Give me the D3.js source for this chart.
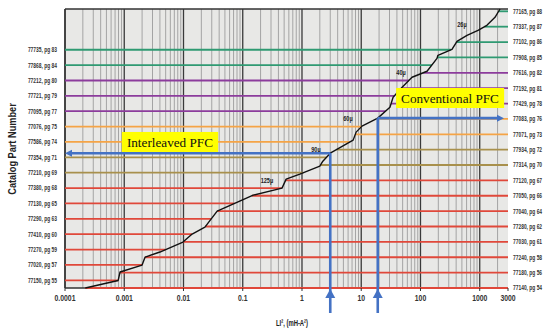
<!DOCTYPE html>
<html><head><meta charset="utf-8">
<script src="https://cdn.jsdelivr.net/npm/d3@7"></script>
<style>
html,body{margin:0;padding:0;background:#fff;}
svg{display:block;}
.nar{font-family:"Liberation Sans","Arial",sans-serif;}
.ser{font-family:"Liberation Serif","Times New Roman",serif;}
</style>
</head><body>
<svg id="c" width="550" height="335"></svg>
<script>
// ---- data ----
// Part numbers labelled on the left (bottom to top)
const leftParts = ["77150, pg 55","77020, pg 57","77270, pg 59","77410, pg 60","77290, pg 63","77130, pg 65","77380, pg 68","77210, pg 69","77354, pg 71","77586, pg 74","77076, pg 75","77095, pg 77","77721, pg 79","77212, pg 80","77868, pg 84","77735, pg 83"];
const leftFamily = ["r","r","r","r","r","r","r","o","o","y","y","p","p","p","g","g"];
// Part numbers labelled on the right (bottom to top)
const rightParts = ["77140, pg 54","77180, pg 56","77240, pg 58","77030, pg 61","77280, pg 62","77040, pg 64","77050, pg 66","77120, pg 67","77314, pg 70","77934, pg 72","77071, pg 73","77083, pg 76","77429, pg 78","77192, pg 81","77616, pg 82","77908, pg 85","77102, pg 86","77337, pg 87","77165, pg 88"];
const rightFamily = ["r","r","r","r","r","r","r","r","o","o","y","y","p","p","p","g","g","g","g"];
// Selection curve: LI^2 (mH-A^2) vs. part row
const curveLI2 = [2.2e-4,7.9e-4,8.5e-4,2.0e-3,2.25e-3,4.0e-3,9.8e-3,0.014,0.023,0.037,0.097,0.15,0.46,0.54,0.92,2.0,2.25,3.0,7.3,8.2,10.3,19,30.5,34.5,49,72,129,190,197,340,413,610,935,1320,1810,2200];
const curveRow = [0,0.49,1.04,1.49,2.01,2.34,2.99,3.51,3.96,5.0,5.72,6.04,6.5,7.08,7.41,7.93,8.25,8.77,9.62,10.14,10.53,11.05,11.76,12.41,13.06,13.71,14.1,14.94,15.14,15.53,16.05,16.44,16.76,17.09,17.61,18.15];
// Permeability labels along the curve
const permLabels = ["26µ","40µ","60µ","90µ","125µ"];
const permLI2 = [501,46.9,5.97,1.72,0.256];
const permRow = [17.18,14.05,11.06,9.04,7.03];
// X axis ticks
const xTicks = [1e-4,1e-3,0.01,0.1,1,10,100,1000,3000];
const xTickLabels = ["0.0001","0.001","0.01","0.1","1","10","100","1000","3000"];
// Design examples
const designNames = ["Interleaved PFC","Conventional PFC"];
const designLI2 = [3.0,19];
const designRow = [8.77,11.05];
const designSide = ["left","right"];
const designBoxLI2 = [0.0059,315];
const designBoxRow = [9.5,12.36];

// ---- helpers ----
function squeeze(sel, sx){
  sel.each(function(){
    const t=d3.select(this);
    const tx=+t.attr("x")||0, ty=+t.attr("y")||0;
    t.attr("x",0).attr("y",0).attr("transform",`translate(${tx},${ty}) scale(${sx},1)`);
  });
  return sel;
}

// ---- scales ----
const svg = d3.select("#c");
const x = d3.scaleLog().domain([1e-4,3000]).range([65,508]);
const y = d3.scaleLinear().domain([0,18.15]).range([288,9]);
const yLeft = d3.scalePoint().domain(leftParts).range([y(0.5),y(15.5)]);
const yRight = d3.scalePoint().domain(rightParts).range([y(0),y(18)]);
const famColor = d3.scaleOrdinal().domain(["r","o","y","p","g"])
  .range(["#e0483a","#a8904c","#f5a446","#8c3c9c","#2f9a72"]);

const [x0,x1] = x.range();
const [yb,yt] = y.range();

// background
svg.append("rect").attr("x",x0).attr("y",yt).attr("width",x1-x0).attr("height",yb-yt).attr("fill","#e8e8e6");

// vertical grid
const minor=[], major=[];
for(let e=-4;e<=3;e++){
  const d=Math.pow(10,e);
  major.push(d);
  for(let k=2;k<=9;k++){ const v=k*d; if(v<3000*0.999) minor.push(v);}
}
svg.append("g").selectAll("line").data(minor).join("line")
  .attr("x1",d=>x(d)).attr("x2",d=>x(d)).attr("y1",yt).attr("y2",yb)
  .attr("stroke","#a4a4a4").attr("stroke-width",1);
svg.append("g").selectAll("line").data(major).join("line")
  .attr("x1",d=>x(d)).attr("x2",d=>x(d)).attr("y1",yt).attr("y2",yb)
  .attr("stroke","#3a3a3a").attr("stroke-width",1.3);

// curve crossing helper (log-x interpolation)
function crossX(row){
  for(let i=0;i<curveRow.length-1;i++){
    const a=curveRow[i], b=curveRow[i+1];
    if(row>=a && row<=b){
      const t = b===a?0:(row-a)/(b-a);
      const la=Math.log10(curveLI2[i]), lb=Math.log10(curveLI2[i+1]);
      return Math.pow(10, la+t*(lb-la));
    }
  }
  return row<curveRow[0]?curveLI2[0]:curveLI2[curveLI2.length-1];
}

// frame
svg.append("line").attr("x1",x0).attr("x2",x1).attr("y1",yt).attr("y2",yt).attr("stroke","#333").attr("stroke-width",1.5);
svg.append("line").attr("x1",x0).attr("x2",x0).attr("y1",yt).attr("y2",yb).attr("stroke","#333").attr("stroke-width",1.5);
svg.append("line").attr("x1",x0).attr("x2",x1).attr("y1",yb).attr("y2",yb).attr("stroke","#333").attr("stroke-width",1.5);

// horizontal part lines
svg.append("g").selectAll("line").data(leftParts).join("line")
  .attr("x1",x0).attr("x2",(d,i)=>x(crossX(i+0.5)))
  .attr("y1",d=>yLeft(d)).attr("y2",d=>yLeft(d))
  .attr("stroke",(d,i)=>famColor(leftFamily[i])).attr("stroke-width",1.8);
svg.append("g").selectAll("line").data(rightParts).join("line")
  .attr("x1",(d,i)=>x(crossX(i))).attr("x2",x1)
  .attr("y1",d=>yRight(d)).attr("y2",d=>yRight(d))
  .attr("stroke",(d,i)=>famColor(rightFamily[i])).attr("stroke-width",1.8);

// labels
squeeze(svg.append("g").selectAll("text").data(leftParts).join("text").attr("class","nar")
  .attr("x",57).attr("y",d=>yLeft(d)+2.4).attr("text-anchor","end")
  .attr("font-size",7).attr("font-weight","bold").attr("fill","#333").text(d=>d),0.7);
squeeze(svg.append("g").selectAll("text").data(rightParts).join("text").attr("class","nar")
  .attr("x",513).attr("y",d=>yRight(d)+2.4).attr("text-anchor","start")
  .attr("font-size",7).attr("font-weight","bold").attr("fill","#333").text(d=>d),0.7);

// curve
const pts = curveLI2.map((v,i)=>[x(v),y(curveRow[i])]);
svg.append("path").attr("d",d3.line()(pts)).attr("fill","none").attr("stroke","#111").attr("stroke-width",1.4).attr("stroke-linejoin","round");

// perm labels
squeeze(svg.append("g").selectAll("text").data(permLabels).join("text").attr("class","nar")
  .attr("x",(d,i)=>x(permLI2[i])).attr("y",(d,i)=>y(permRow[i])+2.7)
  .attr("text-anchor","middle").attr("font-size",8).attr("font-weight","bold").attr("fill","#222").text(d=>d),0.7);

// x ticks
svg.append("g").selectAll("line").data(xTicks).join("line")
  .attr("x1",d=>x(d)).attr("x2",d=>x(d)).attr("y1",yb).attr("y2",yb+3).attr("stroke","#333");
squeeze(svg.append("g").selectAll("text").data(xTicks).join("text").attr("class","nar")
  .attr("x",d=>x(d)).attr("y",301).attr("text-anchor","middle").attr("font-size",9.5).attr("font-weight","bold").attr("fill","#333")
  .text((d,i)=>xTickLabels[i]),0.72);

// axis titles
squeeze(svg.append("text").attr("class","nar").attr("x",292).attr("y",326).attr("text-anchor","middle")
  .attr("font-size",9.5).attr("font-weight","bold").attr("fill","#222").text("LI², (mH-A²)"),0.62);
svg.append("text").attr("class","nar").attr("transform","translate(16,149) rotate(-90) scale(0.8,1)").attr("text-anchor","middle")
  .attr("font-size",11.5).attr("font-weight","bold").attr("fill","#222").text("Catalog Part Number");

// design arrows
const blue="#4472c4";
designNames.forEach((name,i)=>{
  const ax=x(designLI2[i]), ay=y(designRow[i]);
  const g=svg.append("g");
  g.append("line").attr("x1",ax).attr("x2",ax).attr("y1",ay).attr("y2",yb+25).attr("stroke",blue).attr("stroke-width",2.6);
  g.append("path").attr("d",`M${ax},${yb+1}L${ax-5},${yb+10}L${ax+5},${yb+10}Z`).attr("fill",blue);
  if(designSide[i]==="left"){
    g.append("line").attr("x1",ax).attr("x2",x0+5).attr("y1",ay).attr("y2",ay).attr("stroke",blue).attr("stroke-width",2.6);
    g.append("path").attr("d",`M${x0},${ay}L${x0+7},${ay-3.5}L${x0+7},${ay+3.5}Z`).attr("fill",blue);
  } else {
    g.append("line").attr("x1",ax).attr("x2",x1-9).attr("y1",ay).attr("y2",ay).attr("stroke",blue).attr("stroke-width",2.6);
    g.append("path").attr("d",`M${x1-4},${ay}L${x1-11},${ay-3.5}L${x1-11},${ay+3.5}Z`).attr("fill",blue);
  }
  const bx=x(designBoxLI2[i]), by=y(designBoxRow[i]);
  const t=svg.append("text").attr("class","ser").attr("x",bx).attr("y",by).attr("dy","0.35em")
    .attr("text-anchor","middle").attr("font-size",13.2).attr("fill","#111").text(name);
  const bb=t.node().getBBox();
  svg.insert("rect",()=>t.node()).attr("x",bb.x-5).attr("y",by-10).attr("width",bb.width+10).attr("height",20).attr("fill","#ffff00");
});
</script>
</body></html>
